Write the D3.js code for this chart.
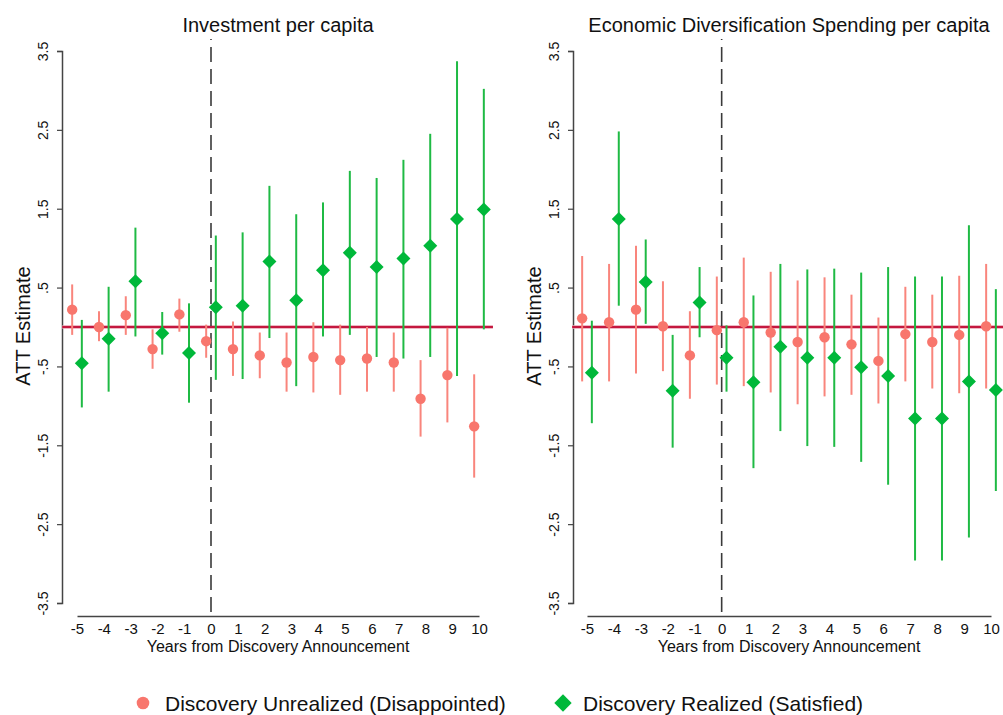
<!DOCTYPE html>
<html>
<head>
<meta charset="utf-8">
<script src="https://cdn.jsdelivr.net/npm/d3@7"></script>
<style>
  body { margin: 0; background: #fff; }
  svg text { font-family: "Liberation Sans", Arial, sans-serif; fill: #111; }
</style>
</head>
<body>
<svg id="chart" width="1003" height="715"></svg>
<script>
// years relative to the discovery announcement
var years = [-5, -4, -3, -2, -1, 0, 1, 2, 3, 4, 5, 6, 7, 8, 9, 10];
var yTicks = [3.5, 2.5, 1.5, 0.5, -0.5, -1.5, -2.5, -3.5];

// Investment per capita
var invUnrealEst = [0.22, 0.0, 0.15, -0.28, 0.16, -0.18, -0.28, -0.36, -0.45, -0.38, -0.42, -0.40, -0.45, -0.91, -0.61, -1.26];
var invUnrealLo  = [-0.10, -0.18, -0.10, -0.53, -0.06, -0.39, -0.62, -0.65, -0.82, -0.83, -0.86, -0.82, -0.82, -1.39, -1.21, -1.91];
var invUnrealHi  = [0.54, 0.20, 0.39, -0.03, 0.36, 0.03, 0.07, -0.07, -0.07, 0.06, 0.03, 0.0, -0.07, -0.42, -0.01, -0.60];
var invRealEst = [-0.46, -0.15, 0.58, -0.08, -0.33, 0.25, 0.27, 0.83, 0.34, 0.72, 0.94, 0.76, 0.87, 1.03, 1.37, 1.49];
var invRealLo  = [-1.02, -0.82, -0.12, -0.35, -0.96, -0.67, -0.66, -0.14, -0.75, -0.12, -0.10, -0.38, -0.40, -0.38, -0.62, -0.03];
var invRealHi  = [0.09, 0.51, 1.26, 0.19, 0.30, 1.16, 1.20, 1.79, 1.43, 1.58, 1.98, 1.89, 2.12, 2.45, 3.37, 3.02];

// Economic Diversification Spending per capita
var divUnrealEst = [0.11, 0.06, 0.22, 0.01, -0.36, -0.04, 0.06, -0.07, -0.19, -0.13, -0.22, -0.43, -0.09, -0.19, -0.10, 0.01];
var divUnrealLo  = [-0.69, -0.69, -0.59, -0.56, -0.91, -0.73, -0.75, -0.83, -0.98, -0.88, -0.86, -0.97, -0.69, -0.78, -0.84, -0.78];
var divUnrealHi  = [0.90, 0.80, 1.03, 0.58, 0.20, 0.64, 0.88, 0.70, 0.59, 0.63, 0.41, 0.12, 0.51, 0.41, 0.65, 0.80];
var divRealEst = [-0.58, 1.37, 0.57, -0.81, 0.31, -0.39, -0.70, -0.25, -0.39, -0.39, -0.51, -0.62, -1.16, -1.16, -0.69, -0.80];
var divRealLo  = [-1.22, 0.27, 0.04, -1.53, -0.13, -0.82, -1.79, -1.32, -1.51, -1.52, -1.71, -2.00, -2.96, -2.96, -2.67, -2.08];
var divRealHi  = [0.08, 2.48, 1.11, -0.10, 0.76, 0.02, 0.40, 0.80, 0.73, 0.74, 0.69, 0.76, 0.64, 0.64, 1.29, 0.48];

var redPt = "#f8766d", redCI = "#f9857c", greenPt = "#00b83a", greenCI = "#1fba44";

var svg = d3.select("#chart");

// square rotated 45 degrees, like Stata's diamond
var diamond = {
  draw: function(ctx, size) {
    var r = Math.sqrt(size / 2);
    ctx.moveTo(0, -r); ctx.lineTo(r, 0); ctx.lineTo(0, r); ctx.lineTo(-r, 0); ctx.closePath();
  }
};

function fmt(v) {
  // Stata style: .5 and -.5, plain hyphen for minus
  return v.toFixed(1).replace(/^0\./, ".").replace(/^-0\./, "-.");
}

function panel(opts) {
  var g = svg.append("g");
  var x = d3.scaleLinear().domain([-5, 10]).range([opts.x0, opts.x1]);
  var y = d3.scaleLinear().domain([-3.5, 3.5]).range([603, 51]);
  var xl = x(-5.55), xr = x(10.52);

  // title
  g.append("text").attr("x", (opts.x0 + opts.x1) / 2).attr("y", 32)
    .attr("text-anchor", "middle").style("font-size", "20px").text(opts.title);

  // y axis
  var yAxis = d3.axisLeft(y).tickValues(yTicks).tickSize(5).tickFormat(fmt);
  var ya = g.append("g").attr("transform", "translate(" + opts.axisX + ",0)").call(yAxis);
  ya.select(".domain").attr("stroke", "#444").attr("stroke-width", 1.5);
  ya.selectAll(".tick line").attr("stroke", "#444").attr("stroke-width", 1.2);
  ya.selectAll(".tick text")
    .attr("x", null).attr("dy", null)
    .attr("transform", "translate(-14,0) rotate(-90)")
    .attr("text-anchor", "middle")
    .style("font-size", "14px").style("font-family", "'Liberation Sans', Arial, sans-serif")
    .attr("fill", "#111");

  g.append("text")
    .attr("transform", "translate(" + (opts.axisX - 32) + ",326) rotate(-90)")
    .attr("text-anchor", "middle").style("font-size", "20px").text("ATT Estimate");

  // x axis
  var xAxis = d3.axisBottom(x).tickValues(years).tickSize(0).tickPadding(7)
    .tickFormat(function(d) { return String(d); });
  var xa = g.append("g").attr("transform", "translate(0,616)").call(xAxis);
  xa.select(".domain").attr("stroke", "#444").attr("stroke-width", 1.5);
  xa.selectAll(".tick text")
    .style("font-size", "15px").style("font-family", "'Liberation Sans', Arial, sans-serif")
    .attr("fill", "#111");

  g.append("text").attr("x", (opts.x0 + opts.x1) / 2).attr("y", 652)
    .attr("text-anchor", "middle").style("font-size", "16px")
    .text("Years from Discovery Announcement");

  // reference lines
  g.append("line").attr("x1", xl).attr("x2", xr).attr("y1", y(0)).attr("y2", y(0))
    .attr("stroke", "#e8a0b0").attr("stroke-width", 3.5);
  g.append("line").attr("x1", xl).attr("x2", xr).attr("y1", y(0)).attr("y2", y(0))
    .attr("stroke", "#c4183f").attr("stroke-width", 1.8);
  g.append("line").attr("x1", x(0)).attr("x2", x(0)).attr("y1", 39).attr("y2", 616)
    .attr("stroke", "#3a3a3a").attr("stroke-width", 1.6)
    .attr("stroke-dasharray", "15,7").attr("stroke-dashoffset", 14);

  var off = 0.18;

  // unrealized: circles, shifted left
  g.selectAll(".ciR").data(years).enter().append("line")
    .attr("x1", function(d) { return x(d - off); }).attr("x2", function(d) { return x(d - off); })
    .attr("y1", function(d, i) { return y(opts.uLo[i]); })
    .attr("y2", function(d, i) { return y(opts.uHi[i]); })
    .attr("stroke", redCI).attr("stroke-width", 2);
  g.selectAll(".ptR").data(years).enter().append("circle")
    .attr("cx", function(d) { return x(d - off); })
    .attr("cy", function(d, i) { return y(opts.uEst[i]); })
    .attr("r", 5.2).attr("fill", redPt);

  // realized: diamonds, shifted right
  g.selectAll(".ciG").data(years).enter().append("line")
    .attr("x1", function(d) { return x(d + off); }).attr("x2", function(d) { return x(d + off); })
    .attr("y1", function(d, i) { return y(opts.rLo[i]); })
    .attr("y2", function(d, i) { return y(opts.rHi[i]); })
    .attr("stroke", greenCI).attr("stroke-width", 2);
  g.selectAll(".ptG").data(years).enter().append("path")
    .attr("d", d3.symbol().type(diamond).size(98))
    .attr("transform", function(d, i) { return "translate(" + x(d + off) + "," + y(opts.rEst[i]) + ")"; })
    .attr("fill", greenPt);
}

panel({
  title: "Investment per capita", axisX: 62, x0: 77, x1: 479,
  uEst: invUnrealEst, uLo: invUnrealLo, uHi: invUnrealHi,
  rEst: invRealEst, rLo: invRealLo, rHi: invRealHi
});
panel({
  title: "Economic Diversification Spending per capita", axisX: 573, x0: 587, x1: 991,
  uEst: divUnrealEst, uLo: divUnrealLo, uHi: divUnrealHi,
  rEst: divRealEst, rLo: divRealLo, rHi: divRealHi
});

// legend
var leg = svg.append("g");
leg.append("circle").attr("cx", 143).attr("cy", 703).attr("r", 6.3).attr("fill", redPt);
leg.append("text").attr("x", 165).attr("y", 710.5).style("font-size", "21px")
  .text("Discovery Unrealized (Disappointed)");
leg.append("path").attr("d", d3.symbol().type(diamond).size(150))
  .attr("transform", "translate(563,703)").attr("fill", greenPt);
leg.append("text").attr("x", 583).attr("y", 710.5).style("font-size", "21px")
  .text("Discovery Realized (Satisfied)");
</script>
</body>
</html>
